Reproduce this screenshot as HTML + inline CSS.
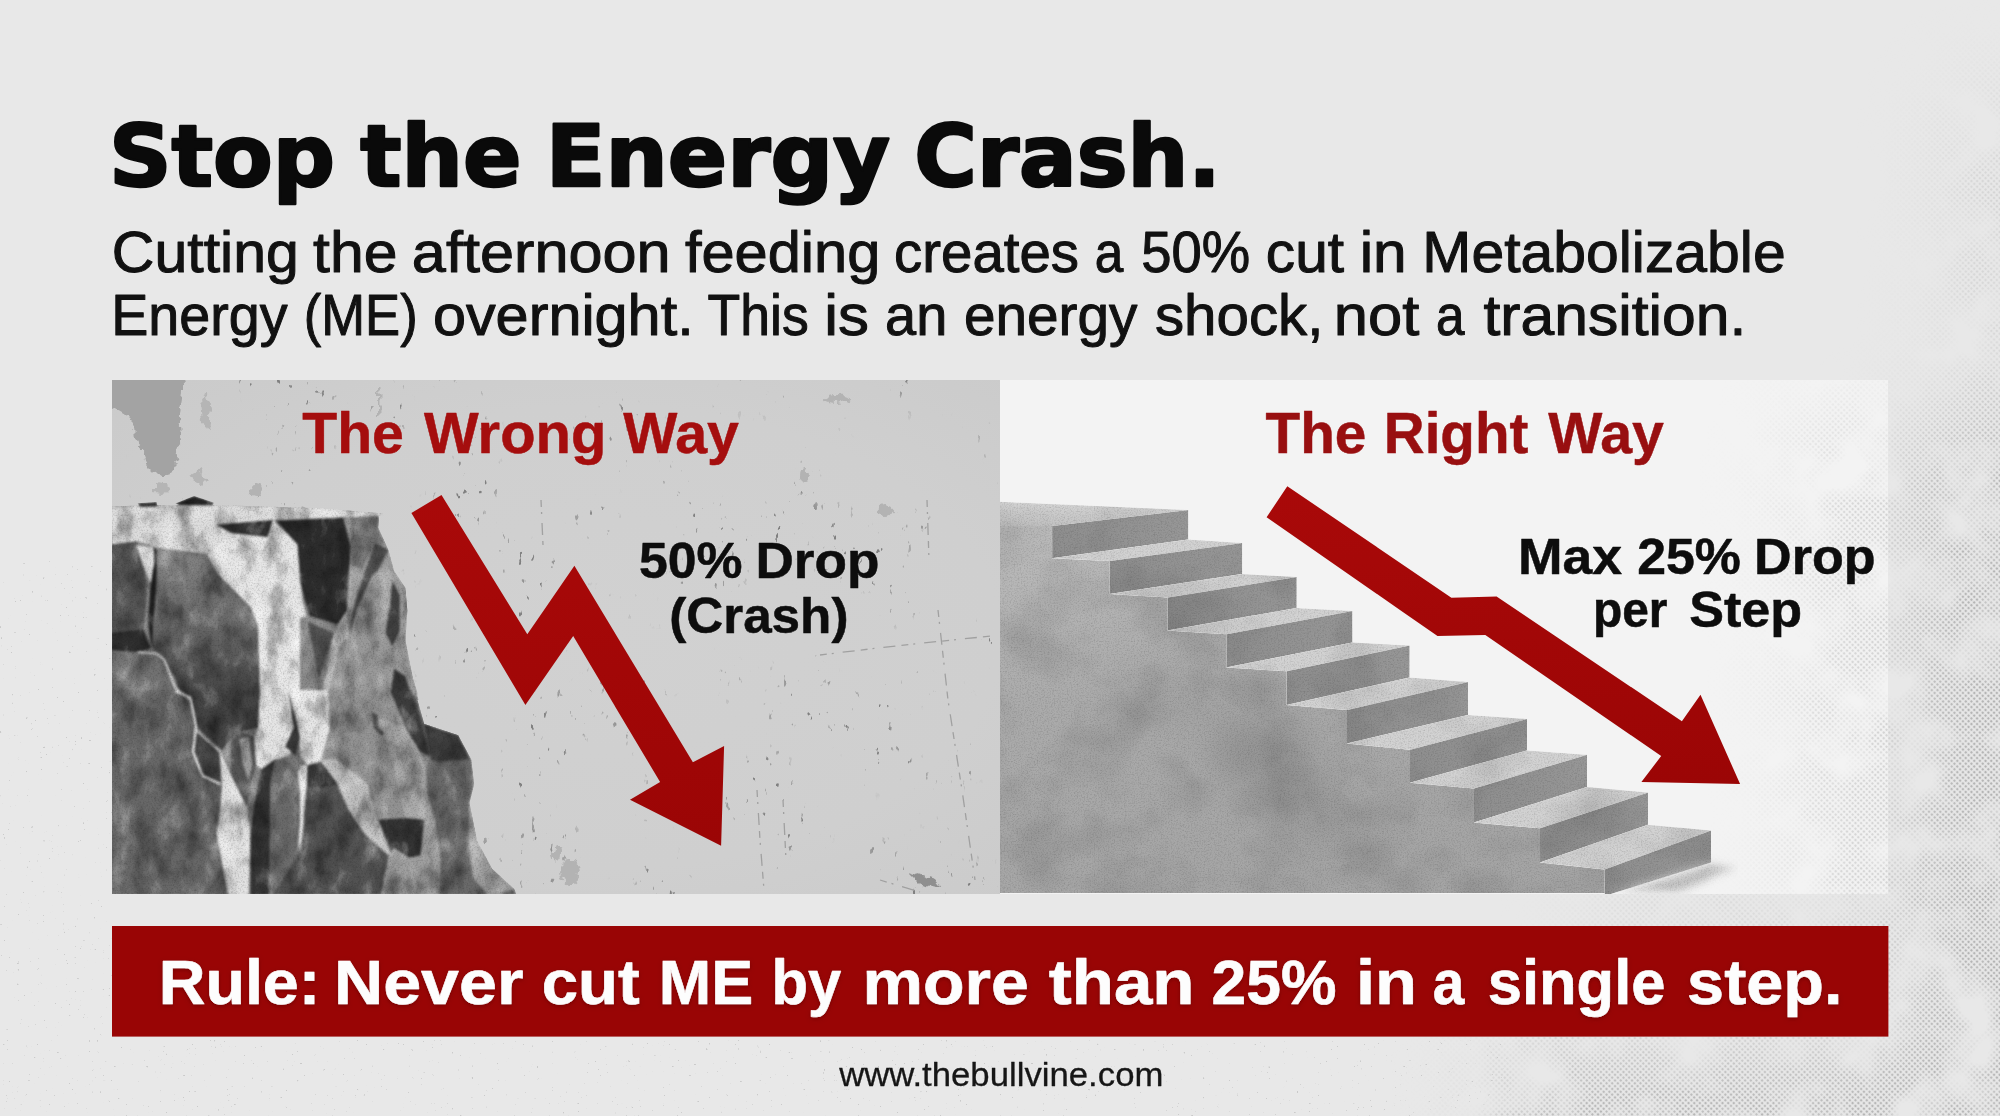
<!DOCTYPE html>
<html lang="en"><head><meta charset="utf-8"><title>Stop the Energy Crash.</title>
<style>
html,body{margin:0;padding:0;background:#e8e8e8;}
body{width:2000px;height:1116px;overflow:hidden;position:relative;}
svg{display:block;position:absolute;left:0;top:0;}
text{font-kerning:normal;}
</style></head><body>
<svg width="2000" height="1116" viewBox="0 0 2000 1116">
<defs>
<linearGradient id="gwall" x1="0" y1="0" x2="0.35" y2="1">
<stop offset="0" stop-color="#bcbcbc"/><stop offset="0.45" stop-color="#ababab"/><stop offset="1" stop-color="#a5a5a5"/>
</linearGradient>
<linearGradient id="griser" x1="0" y1="0" x2="1" y2="0">
<stop offset="0" stop-color="#8e8e8e"/><stop offset="1" stop-color="#979797"/>
</linearGradient>
<linearGradient id="gtop" x1="0" y1="0" x2="0" y2="1"><stop offset="0" stop-color="#d4d4d4"/><stop offset="1" stop-color="#c2c2c2"/></linearGradient>
<linearGradient id="gred" x1="0" y1="0" x2="0" y2="1">
<stop offset="0" stop-color="#a90909"/><stop offset="1" stop-color="#9b0505"/>
</linearGradient>
<radialGradient id="gpanelL" cx="0.55" cy="0.5" r="0.75">
<stop offset="0" stop-color="#d1d1d1"/><stop offset="0.6" stop-color="#cfcfcf"/><stop offset="1" stop-color="#cacaca"/>
</radialGradient>
<linearGradient id="gface" x1="0" y1="0" x2="0" y2="1">
<stop offset="0" stop-color="#767676"/><stop offset="0.55" stop-color="#5a5a5a"/><stop offset="1" stop-color="#3e3e3e"/>
</linearGradient>
<filter id="rock" x="0" y="0" width="100%" height="100%" color-interpolation-filters="sRGB">
<feGaussianBlur in="SourceGraphic" stdDeviation="0.9" result="b"/>
<feTurbulence type="fractalNoise" baseFrequency="0.045 0.03" numOctaves="5" seed="7" result="n"/>
<feColorMatrix in="n" type="matrix" values="0 0 0 0 0  0 0 0 0 0  0 0 0 0 0  0 0 0 1.0 -0.47" result="na"/>
<feFlood flood-color="#000" result="blk"/>
<feComposite in="blk" in2="na" operator="in" result="dark"/>
<feColorMatrix in="n" type="matrix" values="0 0 0 0 1  0 0 0 0 1  0 0 0 0 1  0 0 0 -0.9 0.37" result="lite"/>
<feTurbulence type="fractalNoise" baseFrequency="0.6" numOctaves="2" seed="11" result="g"/>
<feColorMatrix in="g" type="matrix" values="0 0 0 0 0  0 0 0 0 0  0 0 0 0 0  0 0 0 0.36 -0.16" result="grain"/>
<feMerge result="m0"><feMergeNode in="b"/><feMergeNode in="lite"/><feMergeNode in="dark"/><feMergeNode in="grain"/></feMerge>
<feComponentTransfer in="m0" result="m"><feFuncR type="linear" slope="1.15" intercept="-0.01"/><feFuncG type="linear" slope="1.15" intercept="-0.01"/><feFuncB type="linear" slope="1.15" intercept="-0.01"/></feComponentTransfer>
<feComposite in="m" in2="SourceGraphic" operator="in"/>
</filter>
<filter id="concrete" x="0" y="0" width="100%" height="100%" color-interpolation-filters="sRGB">
<feTurbulence type="fractalNoise" baseFrequency="0.012 0.014" numOctaves="4" seed="5" result="n"/>
<feColorMatrix in="n" type="matrix" values="0 0 0 0 0  0 0 0 0 0  0 0 0 0 0  0 0 0 0.3 -0.13" result="dark"/>
<feTurbulence type="fractalNoise" baseFrequency="0.7" numOctaves="2" seed="2" result="g"/>
<feColorMatrix in="g" type="matrix" values="0 0 0 0 0  0 0 0 0 0  0 0 0 0 0  0 0 0 0.3 -0.13" result="grain"/>
<feMerge result="m"><feMergeNode in="SourceGraphic"/><feMergeNode in="dark"/><feMergeNode in="grain"/></feMerge>
<feComposite in="m" in2="SourceGraphic" operator="in"/>
</filter>
<filter id="speck" x="0" y="0" width="100%" height="100%" color-interpolation-filters="sRGB">
<feTurbulence type="fractalNoise" baseFrequency="0.16 0.09" numOctaves="3" seed="4" result="n"/>
<feColorMatrix in="n" type="matrix" values="0 0 0 0 0.5  0 0 0 0 0.5  0 0 0 0 0.5  0 0 0 14 -10.25" result="sp"/>
<feTurbulence type="fractalNoise" baseFrequency="0.012" numOctaves="2" seed="9" result="lo"/>
<feColorMatrix in="lo" type="matrix" values="0 0 0 0 0  0 0 0 0 0  0 0 0 0 0  0 0 0 6 -2.9" result="lom"/>
<feComposite in="sp" in2="lom" operator="in" result="spm"/>
<feComposite in="spm" in2="SourceGraphic" operator="in"/>
</filter>
<filter id="speck2" x="0" y="0" width="100%" height="100%" color-interpolation-filters="sRGB">
<feTurbulence type="fractalNoise" baseFrequency="0.35" numOctaves="2" seed="31" result="n"/>
<feColorMatrix in="n" type="matrix" values="0 0 0 0 0.62  0 0 0 0 0.62  0 0 0 0 0.62  0 0 0 14 -10.7" result="sp"/>
<feComposite in="sp" in2="SourceGraphic" operator="in"/>
</filter>
<pattern id="dots" width="4" height="4" patternUnits="userSpaceOnUse" patternTransform="rotate(45)">
<circle cx="2" cy="2" r="1.3" fill="#b3b3b3"/>
</pattern>
<linearGradient id="gmR" x1="0" y1="0" x2="1" y2="0">
<stop offset="0" stop-color="#fff" stop-opacity="0"/><stop offset="0.45" stop-color="#fff" stop-opacity="0.25"/><stop offset="0.62" stop-color="#fff" stop-opacity="0.8"/><stop offset="1" stop-color="#fff" stop-opacity="1"/>
</linearGradient>
<linearGradient id="gmB" x1="0" y1="0" x2="1" y2="0">
<stop offset="0" stop-color="#fff" stop-opacity="0"/><stop offset="0.5" stop-color="#fff" stop-opacity="0.5"/><stop offset="1" stop-color="#fff" stop-opacity="1"/>
</linearGradient>
<filter id="mblur" filterUnits="userSpaceOnUse" x="900" y="-100" width="1300" height="1400"><feGaussianBlur stdDeviation="45" result="bl"/>
<feTurbulence type="fractalNoise" baseFrequency="0.018" numOctaves="3" seed="14" result="tn"/>
<feColorMatrix in="tn" type="matrix" values="0 0 0 0 1  0 0 0 0 1  0 0 0 0 1  0 0 0 3.2 -0.85" result="ta"/>
<feComposite in="bl" in2="ta" operator="in"/></filter>
<mask id="mR" maskUnits="userSpaceOnUse" x="1000" y="0" width="1000" height="1116"><g filter="url(#mblur)"><rect x="1900" y="430" width="200" height="800" fill="#fff"/><rect x="1500" y="1050" width="600" height="200" fill="#fff"/><rect x="1600" y="895" width="440" height="30" fill="#fff" opacity="1"/><rect x="1960" y="100" width="100" height="400" fill="#fff" opacity="0.5"/></g></mask>
<mask id="mR2" maskUnits="userSpaceOnUse" x="1500" y="300" width="500" height="700"><g filter="url(#mblur)"><rect x="1800" y="420" width="200" height="560" fill="#fff"/></g></mask>
<filter id="tsh" x="-2%" y="-20%" width="104%" height="150%"><feDropShadow dx="0" dy="1.5" stdDeviation="2" flood-color="#5a0000" flood-opacity="0.55"/></filter>
<filter id="rough" x="-10%" y="-10%" width="120%" height="120%"><feTurbulence type="fractalNoise" baseFrequency="0.12" numOctaves="3" seed="8" result="t"/><feDisplacementMap in="SourceGraphic" in2="t" scale="11" xChannelSelector="R" yChannelSelector="G"/></filter>
<filter id="cloud" x="-50%" y="-50%" width="200%" height="200%"><feGaussianBlur stdDeviation="16"/></filter>
<filter id="cloud2" x="-30%" y="-50%" width="160%" height="200%"><feGaussianBlur stdDeviation="5"/></filter>
<clipPath id="cpL"><rect x="112" y="380" width="888" height="514"/></clipPath>
<clipPath id="cpR"><rect x="1000" y="380" width="888" height="514"/></clipPath>
</defs>
<rect x="0" y="0" width="2000" height="1116" fill="#e8e8e8"/>
<g opacity="0.4"><rect x="0" y="560" width="112" height="556" fill="#000" filter="url(#speck2)"/><rect x="112" y="1040" width="1400" height="76" fill="#000" filter="url(#speck2)"/></g>
<!-- panels -->
<g mask="url(#mR)"><rect x="1000" y="0" width="1000" height="1116" fill="url(#dots)"/></g>
<rect x="112" y="380" width="888" height="514" fill="url(#gpanelL)"/>
<rect x="1000" y="380" width="888" height="514" fill="#f3f3f3"/>
<rect x="112" y="380" width="888" height="514" fill="#000" filter="url(#speck)"/>
<g mask="url(#mR2)" opacity="0.5"><rect x="1600" y="380" width="288" height="514" fill="url(#dots)"/></g>
<!-- corner blotch -->
<g clip-path="url(#cpL)"><g filter="url(#rough)" transform="translate(5,5)"><path d="M100 370 L177 370 C181 392 172 404 176 420 C179 436 168 446 173 458 C170 470 156 474 148 466 C138 458 140 446 132 438 C126 428 134 420 124 412 C118 408 112 404 100 400 Z" fill="#a3a3a3"/>
<path d="M196 392 l6 -2 l3 14 l-2 22 l-5 -10 z M186 470 l10 -6 l6 10 l-8 8 z M150 478 l14 2 l-4 10 l-10 -2 z" fill="#b5b5b5"/></g></g>
<path d="M294 520 l8 -14 l8 4 l-2 14 z" fill="#b4b4b4"/>
<g clip-path="url(#cpL)"><g filter="url(#rough)" transform="translate(4,4)" fill="#b3b3b3"><circle cx="252" cy="486" r="6"/><ellipse cx="800" cy="471" rx="4" ry="7"/><ellipse cx="881" cy="507" rx="9" ry="6"/><ellipse cx="566" cy="868" rx="10" ry="12"/><ellipse cx="552" cy="850" rx="4" ry="8"/><path d="M905 868 l26 8 l6 8 l-20 -4 z" fill="#8f8f8f"/><rect x="374" y="384" width="2.5" height="28"/><ellipse cx="832" cy="395" rx="12" ry="4"/></g></g>
<g stroke="#959595" stroke-width="1.3" fill="none" stroke-dasharray="7 5 2 9 12 6" opacity="0.8">
<path d="M938 610 L948 700 L962 790 L975 880"/><path d="M757 790 L760 840 L764 890"/><path d="M783 800 L786 860"/><path d="M927 500 L929 560"/><path d="M820 655 Q900 645 992 636"/><path d="M541 500 L543 545"/><path d="M880 880 l40 12"/>
</g>
<g clip-path="url(#cpL)"><g filter="url(#rock)">
<polygon points="111.3,506.6 156.5,505.1 212.9,505.1 320.0,508.3 382.8,513.5 383.2,515.6 379.0,516.0 378.1,527.6 388.4,550.2 394.1,570.9 405.4,587.9 407.3,610.4 405.4,640.5 409.1,659.4 412.9,678.2 417.6,693.2 416.7,697.5 424.2,723.9 458.1,735.2 471.2,759.6 474.1,784.1 469.4,802.9 476.9,840.5 491.9,868.8 514.5,889.5 516.4,895.1 93.0,895.1" fill="#757575" />
<polygon points="111.3,506.6 156.5,505.1 212.9,505.1 320.0,508.3 382.8,513.5 383.2,515.6 343.3,517.5 273.1,520.1 216.7,524.8 231.7,532.9 207.3,554.0 156.5,547.4 137.6,541.2 111.3,544.6" fill="#c2c2c2" />
<polygon points="111.3,544.6 137.6,541.2 145.2,569.0 147.0,595.4 143.3,629.3 150.8,648.1 137.6,652.2 111.3,650.3" fill="#4e4e4e" />
<polygon points="111.3,633.0 143.3,629.3 150.8,648.1 137.6,652.2 111.3,650.3" fill="#2c2c2c" />
<polygon points="136.7,546.1 153.6,546.5 154.9,561.5 151.2,584.1 144.4,569.0" fill="#c2c2c2" />
<polygon points="153.6,546.5 157.6,552.1 156.8,584.1 153.4,621.7 151.9,648.4 147.8,621.7 150.8,584.1 154.6,561.5" fill="#1f1f1f" />
<polygon points="156.5,549.8 207.3,554.0 216.7,572.8 250.5,606.7 258.1,625.5 260.0,700.0 182.8,700.0 175.3,678.2 162.1,656.0 152.7,648.4 156.5,584.1" fill="url(#gface)" />
<polygon points="111.3,650.3 137.6,652.2 156.5,653.7 164.0,659.4 175.3,687.6 190.3,700.0 111.3,700.0" fill="#666" />
<polygon points="207.3,554.0 231.7,532.9 267.5,537.0 280.7,552.1 299.5,580.3 307.0,621.7 320.0,678.2 320.0,700.0 260.0,700.0 258.1,625.5 250.5,606.7 216.7,572.8" fill="#cbcbcb" />
<polygon points="216.7,524.8 273.1,520.1 267.5,537.0 231.7,532.9" fill="#2e2e2e" />
<polygon points="273.1,520.1 297.6,544.6 299.8,580.3 280.7,552.1 267.5,537.0" fill="#cacaca" />
<polygon points="175.3,503.5 194.1,496.0 213.7,502.4 212.9,505.4 179.0,505.1" fill="#252525" />
<polygon points="137.6,503.2 156.5,502.0 157.6,506.6 139.9,506.9" fill="#2d2d2d" />
<polygon points="276.9,520.9 343.3,517.5 350.8,546.5 348.9,574.7 347.0,610.4 337.6,624.6 309.4,616.1 300.9,584.1 297.6,544.6" fill="#2a2a2a" />
<polygon points="343.3,517.5 379.0,516.0 378.1,527.6 388.4,550.2 394.1,570.9 405.4,587.9 407.3,610.4 405.4,640.5 409.1,659.4 412.9,678.2 418.6,700.0 328.2,700.0 339.5,646.2 348.9,636.8 347.0,610.4 348.9,574.7 350.8,546.5" fill="#888888" />
<polygon points="350.8,518.2 379.0,516.0 378.1,527.6 382.8,544.6 375.3,542.7 362.1,569.0 351.2,565.3" fill="#6c6c6c" />
<polygon points="375.3,542.7 388.4,550.2 379.0,569.0 371.5,576.6 356.5,610.4 348.9,636.8 354.6,602.9 364.0,574.7" fill="#484848" />
<polygon points="392.2,580.3 399.7,595.4 399.7,631.1 392.2,646.2 385.6,633.0 390.3,602.9" fill="#3c3c3c" />
<polygon points="394.1,668.8 405.4,676.3 412.9,700.0 390.3,700.0" fill="#363636" />
<polygon points="300.0,618.0 309.4,616.1 337.6,624.6 332.0,640.5 320.7,700.0 300.0,700.0" fill="#7a7a7a" />
<polygon points="307.5,621.7 333.9,633.0 328.2,650.0 318.8,678.2 315.1,659.4" fill="#4d4d4d" />
<polygon points="337.6,624.6 347.0,610.4 348.9,636.8 339.5,646.2 328.2,700.0 320.7,700.0 332.0,640.5" fill="#a6a6a6" />
<polygon points="111.3,690.0 175.3,690.0 179.0,693.8 190.3,697.5 196.0,725.8 192.2,752.1 201.6,774.7 220.4,784.1 220.4,806.7 216.7,833.0 228.0,895.1 111.3,895.1" fill="#5c5c5c" />
<polygon points="179.0,690.0 260.0,690.0 258.1,727.6 241.1,731.4 229.8,738.9 222.3,750.2 205.4,735.2 196.0,725.8 190.3,697.5" fill="#3e3e3e" />
<polygon points="196.0,730.5 220.4,752.1 222.3,784.1 202.6,774.7 193.2,752.1" fill="#424242" />
<polygon points="220.4,752.1 231.7,776.6 246.8,806.7 250.5,836.8 248.7,895.1 228.0,895.1 216.7,833.0 220.4,806.7 222.3,784.1" fill="#c6c6c6" />
<polygon points="229.8,738.9 241.1,731.4 254.3,737.0 256.2,765.3 250.5,784.1 246.8,806.7 231.7,776.6" fill="#4c4c4c" />
<polygon points="239.3,738.9 248.7,737.0 252.4,765.3 248.7,780.3 243.0,765.3" fill="#8a8a8a" />
<polygon points="260.0,690.0 288.2,690.0 295.7,708.8 299.5,737.0 288.2,755.9 275.0,759.6 261.8,769.0 256.2,765.3 254.3,737.0 258.1,727.6" fill="#c9c9c9" />
<polygon points="288.2,690.0 295.7,718.2 299.8,737.0 295.7,755.9 285.4,746.5 293.8,727.6" fill="#353535" />
<polygon points="290.1,690.0 320.0,690.0 320.0,765.3 307.0,763.4 303.2,752.1 299.8,737.0 295.7,708.8" fill="#cdcdcd" />
<polygon points="261.8,769.0 275.0,759.6 270.3,784.1 269.4,895.1 250.5,895.1 250.5,836.8 254.3,802.9" fill="#313131" />
<polygon points="275.0,759.6 288.2,761.5 297.6,770.9 301.4,802.9 297.6,855.6 273.1,895.1 269.4,895.1 270.3,784.1" fill="#606060" />
<polygon points="297.6,770.9 305.1,765.3 307.0,784.1 303.2,821.7 299.5,855.6 297.6,855.6 301.4,802.9" fill="#d0d0d0" />
<polygon points="307.0,763.4 320.0,769.0 320.0,895.1 273.1,895.1 297.6,855.6 303.2,821.7 307.0,784.1" fill="#484848" />
<polygon points="300.0,690.0 328.2,690.0 330.1,727.6 320.7,761.5 307.5,765.3 300.0,755.9" fill="#cbcbcb" />
<polygon points="307.5,786.0 322.6,787.9 337.6,784.1 348.9,810.4 364.0,833.0 388.4,855.6 380.9,895.1 300.0,895.1 300.0,855.6 303.8,821.7" fill="#4b4b4b" />
<polygon points="300.0,765.3 307.5,765.3 303.8,821.7 300.0,855.6" fill="#cdcdcd" />
<polygon points="328.2,690.0 390.3,690.0 405.4,727.6 420.4,752.1 426.1,769.0 428.0,795.4 424.2,819.8 405.4,818.0 379.0,819.8 375.3,814.2 367.7,784.1 333.9,757.7 320.7,761.5 330.1,727.6" fill="#828282" />
<polygon points="379.0,718.2 405.4,727.6 420.4,752.1 426.1,769.0 428.0,795.4 424.2,819.8 405.4,818.0 397.9,784.1 388.4,746.5" fill="#959595" />
<polygon points="320.7,761.5 333.9,757.7 367.7,784.1 375.3,814.2 390.3,851.8 388.4,855.6 364.0,833.0 348.9,810.4 337.6,784.1" fill="#a8a8a8" />
<polygon points="307.5,765.3 320.7,761.5 337.6,784.1 322.6,787.9 307.5,786.0" fill="#333" />
<polygon points="390.3,851.8 394.1,848.1 409.1,857.5 420.4,855.6 424.2,819.8 428.0,795.4 435.5,821.7 441.1,859.4 439.3,895.1 380.9,895.1 388.4,855.6" fill="#8c8c8c" />
<polygon points="379.0,819.8 405.4,818.0 424.2,819.8 420.4,855.6 409.1,857.5 394.1,848.1 390.3,851.8" fill="#2f2f2f" />
<polygon points="411.0,690.0 416.7,697.5 424.2,723.9 458.1,735.2 471.2,759.6 474.1,784.1 469.4,802.9 476.9,840.5 491.9,868.8 514.5,889.5 516.4,895.1 439.3,895.1 441.1,859.4 435.5,821.7 428.0,795.4 426.1,769.0 429.8,755.9 420.4,718.2" fill="#5e5e5e" />
<polygon points="390.3,690.0 411.0,690.0 420.4,718.2 429.8,755.9 420.4,752.1 405.4,727.6" fill="#383838" />
<polygon points="424.2,723.9 458.1,735.2 469.4,759.6 431.7,761.5 429.8,752.1" fill="#3d3d3d" />
<polygon points="469.4,802.9 476.9,840.5 491.9,868.8 514.5,889.5 488.2,895.1 473.1,878.2 468.4,840.5" fill="#888" />
<polygon points="371.5,712.6 377.2,714.5 379.0,727.6 384.7,733.3 380.9,736.1 373.4,727.6" fill="#444" />
<polyline points="175.3,690.9 190.3,697.5 196.0,725.8 193.2,752.1 202.6,775.6 220.4,784.1" fill="none" stroke="#d8d8d8" stroke-width="2.2"/>
<polyline points="137.6,652.2 156.5,653.7 164.0,659.4 175.3,687.6 190.3,700.0" fill="none" stroke="#d0d0d0" stroke-width="1.8"/>
<polyline points="196.0,730.5 220.4,752.1 222.3,784.1" fill="none" stroke="#bdbdbd" stroke-width="1.5"/>
</g></g>
<g clip-path="url(#cpR)"><g filter="url(#concrete)">
<polygon points="1000,525.9 1052.1,525.9 1052.1,558.3 1109.7,560.9 1109.7,594 1167.6,597.4 1167.6,630.5 1226.4,634.3 1226.4,667.4 1286.6,671.2 1286.6,705 1347,710 1347,743.6 1410,749.8 1410,782.8 1474,788.4 1474,822.6 1540,828.2 1540,862.6 1604.6,869.6 1604.6,896 1604.6,893 1000,893" fill="url(#gwall)" />
<g filter="url(#cloud)" fill="#6e6e6e"><ellipse cx="1262" cy="752" rx="50" ry="34" opacity="0.32"/><ellipse cx="1322" cy="818" rx="38" ry="28" opacity="0.2"/><ellipse cx="1180" cy="700" rx="60" ry="30" opacity="0.12"/></g>
<polygon points="1000,501.8 1188.3,510.1 1052.1,525.9 1000,525.9" fill="url(#gtop)" />
<polygon points="1052.1,525.9 1188.3,510.1 1188.3,539.5 1052.1,558.3" fill="url(#griser)" />
<polygon points="1052.1,558.3 1188.3,539.5 1242.2,542.9 1109.7,560.9" fill="#d2d2d2" />
<polygon points="1109.7,560.9 1242.2,542.9 1242.2,574.1 1109.7,594" fill="url(#griser)" />
<polygon points="1109.7,594 1242.2,574.1 1296.7,577.1 1167.6,597.4" fill="#d2d2d2" />
<polygon points="1167.6,597.4 1296.7,577.1 1296.7,608 1167.6,630.5" fill="url(#griser)" />
<polygon points="1167.6,630.5 1296.7,608 1352.4,611 1226.4,634.3" fill="#d2d2d2" />
<polygon points="1226.4,634.3 1352.4,611 1352.4,642.6 1226.4,667.4" fill="url(#griser)" />
<polygon points="1226.4,667.4 1352.4,642.6 1409.6,645.6 1286.6,671.2" fill="#d2d2d2" />
<polygon points="1286.6,671.2 1409.6,645.6 1409.6,677.6 1286.6,705" fill="url(#griser)" />
<polygon points="1286.6,705 1409.6,677.6 1468,682 1347,710" fill="#d2d2d2" />
<polygon points="1347,710 1468,682 1468,715 1347,743.6" fill="url(#griser)" />
<polygon points="1347,743.6 1468,715 1527,719 1410,749.8" fill="#d2d2d2" />
<polygon points="1410,749.8 1527,719 1527,750.6 1410,782.8" fill="url(#griser)" />
<polygon points="1410,782.8 1527,750.6 1587,754.8 1474,788.4" fill="#d2d2d2" />
<polygon points="1474,788.4 1587,754.8 1587,787 1474,822.6" fill="url(#griser)" />
<polygon points="1474,822.6 1587,787 1648,792.6 1540,828.2" fill="#d2d2d2" />
<polygon points="1540,828.2 1648,792.6 1648,824.8 1540,862.6" fill="url(#griser)" />
<polygon points="1540,862.6 1648,824.8 1711,830.4 1604.6,869.6" fill="#d2d2d2" />
<polygon points="1604.6,869.6 1711,830.4 1711,862.6 1604.6,896" fill="url(#griser)" />
<polygon points="1612,893 1711,862.6 1738,868 1680,893" fill="#c4c4c4" filter="url(#cloud2)"/>
</g></g>
<polygon points="411.4,513.1 441.5,495.0 527.3,634.3 574.4,565.8 692.9,762.2 724.1,746.0 721.1,845.7 630.0,799.8 660.1,782.1 573.2,636.1 525.4,705.0" fill="url(#gred)" />
<polygon points="1287.3,486.3 1451.4,597.7 1496.6,596.5 1681.9,721.3 1700.5,694.7 1740.1,783.9 1641.4,781.9 1661.2,756.1 1485.3,634.9 1437.5,636.1 1266.6,517.3" fill="url(#gred)" />
<!-- banner -->
<rect x="112" y="926" width="1776.4" height="110.6" fill="#990505"/>
<!-- text -->
<text y="186" font-family='"DejaVu Sans", "Liberation Sans", sans-serif' font-size="86" font-weight="bold" fill="#0a0a0a" stroke="#0a0a0a" stroke-width="2.5" stroke-linejoin="round"><tspan x="108.94" textLength="226.06" lengthAdjust="spacingAndGlyphs">Stop</tspan> <tspan x="360.25" textLength="161.19" lengthAdjust="spacingAndGlyphs">the</tspan> <tspan x="545.71" textLength="344.43" lengthAdjust="spacingAndGlyphs">Energy</tspan> <tspan x="914.28" textLength="306.57" lengthAdjust="spacingAndGlyphs">Crash.</tspan></text>
<text y="271.5" font-family='"Liberation Sans", sans-serif' font-size="57" font-weight="normal" fill="#111" stroke="#111" stroke-width="1.0" stroke-linejoin="round"><tspan x="111.79" textLength="187.04" lengthAdjust="spacingAndGlyphs">Cutting</tspan> <tspan x="313.04" textLength="84.36" lengthAdjust="spacingAndGlyphs">the</tspan> <tspan x="411.85" textLength="258.8" lengthAdjust="spacingAndGlyphs">afternoon</tspan> <tspan x="684.96" textLength="195.34" lengthAdjust="spacingAndGlyphs">feeding</tspan> <tspan x="894.02" textLength="184.98" lengthAdjust="spacingAndGlyphs">creates</tspan> <tspan x="1094.7" textLength="28.53" lengthAdjust="spacingAndGlyphs">a</tspan> <tspan x="1141.24" textLength="108.86" lengthAdjust="spacingAndGlyphs">50%</tspan> <tspan x="1265.84" textLength="78.2" lengthAdjust="spacingAndGlyphs">cut</tspan> <tspan x="1359.66" textLength="47.01" lengthAdjust="spacingAndGlyphs">in</tspan> <tspan x="1422.33" textLength="363.37" lengthAdjust="spacingAndGlyphs">Metabolizable</tspan></text>
<text y="334.5" font-family='"Liberation Sans", sans-serif' font-size="57" font-weight="normal" fill="#111" stroke="#111" stroke-width="1.0" stroke-linejoin="round"><tspan x="111.22" textLength="176.38" lengthAdjust="spacingAndGlyphs">Energy</tspan> <tspan x="303.81" textLength="113.89" lengthAdjust="spacingAndGlyphs">(ME)</tspan> <tspan x="432.92" textLength="260.73" lengthAdjust="spacingAndGlyphs">overnight.</tspan> <tspan x="707.56" textLength="101.12" lengthAdjust="spacingAndGlyphs">This</tspan> <tspan x="824.16" textLength="44.7" lengthAdjust="spacingAndGlyphs">is</tspan> <tspan x="885.04" textLength="62.2" lengthAdjust="spacingAndGlyphs">an</tspan> <tspan x="963.91" textLength="173.49" lengthAdjust="spacingAndGlyphs">energy</tspan> <tspan x="1154.96" textLength="168.4" lengthAdjust="spacingAndGlyphs">shock,</tspan> <tspan x="1333.79" textLength="85.48" lengthAdjust="spacingAndGlyphs">not</tspan> <tspan x="1436.0" textLength="28.53" lengthAdjust="spacingAndGlyphs">a</tspan> <tspan x="1483.44" textLength="262.92" lengthAdjust="spacingAndGlyphs">transition.</tspan></text>
<text y="452.5" font-family='"Liberation Sans", sans-serif' font-size="57.2" font-weight="bold" fill="#a50e0e" stroke="#a50e0e" stroke-width="0.5" stroke-linejoin="round"><tspan x="302.25" textLength="101.67" lengthAdjust="spacingAndGlyphs">The</tspan> <tspan x="424.0" textLength="182.3" lengthAdjust="spacingAndGlyphs">Wrong</tspan> <tspan x="623.25" textLength="115.72" lengthAdjust="spacingAndGlyphs">Way</tspan></text>
<text y="452.5" font-family='"Liberation Sans", sans-serif' font-size="57.2" font-weight="bold" fill="#980f10" stroke="#980f10" stroke-width="0.5" stroke-linejoin="round"><tspan x="1265.51" textLength="100.9" lengthAdjust="spacingAndGlyphs">The</tspan> <tspan x="1383.79" textLength="144.56" lengthAdjust="spacingAndGlyphs">Right</tspan> <tspan x="1548.25" textLength="115.72" lengthAdjust="spacingAndGlyphs">Way</tspan></text>
<text y="577.6" font-family='"Liberation Sans", sans-serif' font-size="50" font-weight="bold" fill="#0d0d0d" stroke="#0d0d0d" stroke-width="0.5" stroke-linejoin="round"><tspan x="638.98" textLength="103.48" lengthAdjust="spacingAndGlyphs">50%</tspan> <tspan x="755.46" textLength="123.91" lengthAdjust="spacingAndGlyphs">Drop</tspan></text>
<text y="632.8" font-family='"Liberation Sans", sans-serif' font-size="50" font-weight="bold" fill="#0d0d0d" stroke="#0d0d0d" stroke-width="0.5" stroke-linejoin="round"><tspan x="669.18" textLength="179.28" lengthAdjust="spacingAndGlyphs">(Crash)</tspan></text>
<text y="573.6" font-family='"Liberation Sans", sans-serif' font-size="50" font-weight="bold" fill="#0d0d0d" stroke="#0d0d0d" stroke-width="0.5" stroke-linejoin="round"><tspan x="1518.04" textLength="103.99" lengthAdjust="spacingAndGlyphs">Max</tspan> <tspan x="1637.18" textLength="103.69" lengthAdjust="spacingAndGlyphs">25%</tspan> <tspan x="1754.13" textLength="121.39" lengthAdjust="spacingAndGlyphs">Drop</tspan></text>
<text y="627" font-family='"Liberation Sans", sans-serif' font-size="50" font-weight="bold" fill="#0d0d0d" stroke="#0d0d0d" stroke-width="0.5" stroke-linejoin="round"><tspan x="1592.98" textLength="74.55" lengthAdjust="spacingAndGlyphs">per</tspan> <tspan x="1689.16" textLength="113.05" lengthAdjust="spacingAndGlyphs">Step</tspan></text>
<text y="1003.5" font-family='"Liberation Sans", sans-serif' font-size="63" font-weight="bold" fill="#fdfdfd" stroke="#fdfdfd" stroke-width="0.6" stroke-linejoin="round" filter="url(#tsh)"><tspan x="158.69" textLength="161.68" lengthAdjust="spacingAndGlyphs">Rule:</tspan> <tspan x="333.97" textLength="189.46" lengthAdjust="spacingAndGlyphs">Never</tspan> <tspan x="541.73" textLength="97.99" lengthAdjust="spacingAndGlyphs">cut</tspan> <tspan x="658.8" textLength="94.39" lengthAdjust="spacingAndGlyphs">ME</tspan> <tspan x="771.51" textLength="69.69" lengthAdjust="spacingAndGlyphs">by</tspan> <tspan x="862.48" textLength="166.45" lengthAdjust="spacingAndGlyphs">more</tspan> <tspan x="1048.7" textLength="145.87" lengthAdjust="spacingAndGlyphs">than</tspan> <tspan x="1211.52" textLength="124.85" lengthAdjust="spacingAndGlyphs">25%</tspan> <tspan x="1355.94" textLength="61.02" lengthAdjust="spacingAndGlyphs">in</tspan> <tspan x="1432.85" textLength="31.54" lengthAdjust="spacingAndGlyphs">a</tspan> <tspan x="1487.77" textLength="177.64" lengthAdjust="spacingAndGlyphs">single</tspan> <tspan x="1687.13" textLength="155.34" lengthAdjust="spacingAndGlyphs">step.</tspan></text>
<text y="1086.4" font-family='"Liberation Sans", sans-serif' font-size="34" font-weight="normal" fill="#161616" stroke="#161616" stroke-width="0.3" stroke-linejoin="round"><tspan x="839.15" textLength="324.24" lengthAdjust="spacingAndGlyphs">www.thebullvine.com</tspan></text>
</svg>
</body></html>
